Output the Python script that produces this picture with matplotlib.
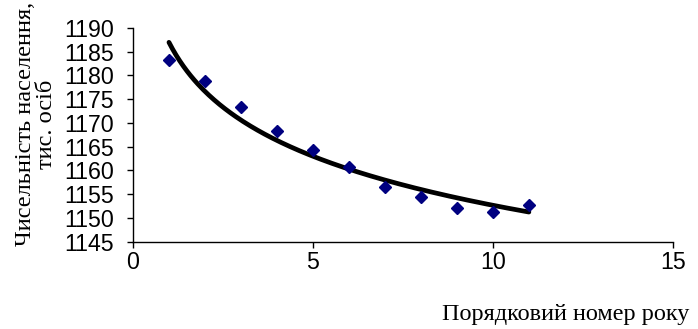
import numpy as np
import matplotlib.pyplot as plt

# population by year number (thousand people)
years = [1, 2, 3, 4, 5, 6, 7, 8, 9, 10, 11]
population = [1183.3, 1178.8, 1173.3, 1168.3, 1164.3, 1160.8, 1156.6, 1154.5, 1152.2, 1151.2, 1152.7]

x_ticks = [0, 5, 10, 15]
y_ticks = [1145, 1150, 1155, 1160, 1165, 1170, 1175, 1180, 1185, 1190]

# logarithmic trend line, fitted to the points
b, a = np.polyfit(np.log(years), population, 1)
x_fit = np.linspace(min(years), max(years), 200)
y_fit = a + b * np.log(x_fit)

fig = plt.figure(figsize=(6.98, 3.29), dpi=100)
ax = fig.add_axes([0.1905, 0.2653, 0.7735, 0.6496])

ax.plot(x_fit, y_fit, color='black', linewidth=3.4, solid_capstyle='round', zorder=2)
ax.plot(years, population, linestyle='none', marker='D', markersize=6.3,
        color='#000080', zorder=3)

ax.set_xlim(0, 15)
ax.set_ylim(1145, 1190)
ax.set_xticks(x_ticks)
ax.set_yticks(y_ticks)
for spine in ['top', 'right']:
    ax.spines[spine].set_visible(False)
for spine in ['left', 'bottom']:
    ax.spines[spine].set_linewidth(1.0)
ax.tick_params(direction='out', length=4.3, width=1.0, labelsize=16.7,
               labelfontfamily='Liberation Sans')
ax.tick_params(axis='x', pad=2.5)
ax.tick_params(axis='y', pad=9.5)

fig.text(0.051, 0.623, 'Чисельність населення,\nтис. осіб', rotation=90,
         ha='center', va='center', fontsize=17.6, family='Liberation Serif',
         linespacing=1.0, multialignment='center')
fig.text(0.81, 0.043, 'Порядковий номер року', ha='center', va='center',
         fontsize=17.5, family='Liberation Serif')

fig.savefig('out.png', dpi=100)
